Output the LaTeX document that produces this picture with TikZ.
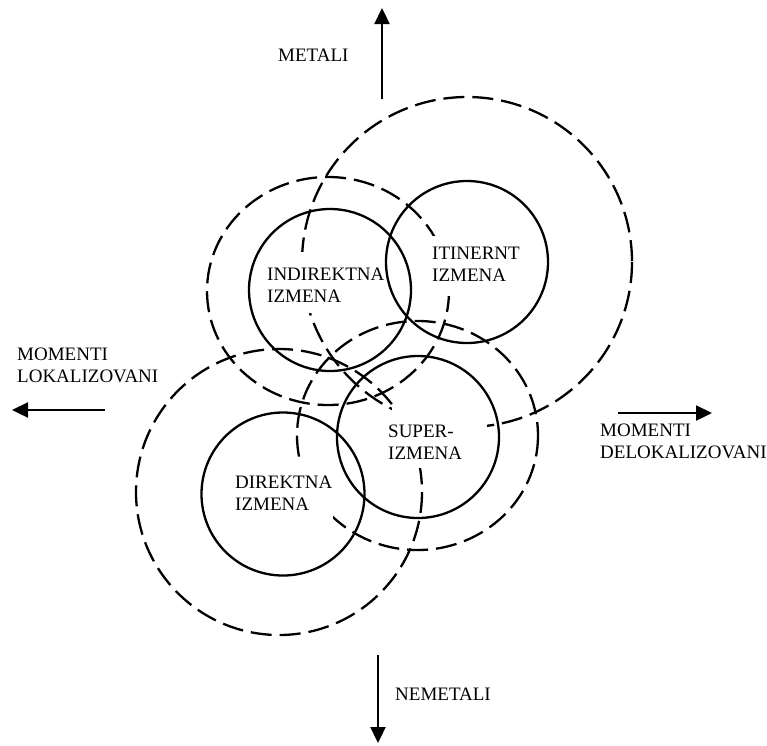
\documentclass[tikz,border=0pt]{standalone}
\usepackage{fontspec}
\setmainfont{Liberation Serif}
\usetikzlibrary{arrows.meta}
\begin{document}
\begin{tikzpicture}[x=1pt,y=-1pt,
  dcirc/.style={draw, line width=2.3pt, dash pattern=on 21pt off 8pt},
  scirc/.style={draw, line width=2.3pt},
  wbox/.style={fill=white, draw=none, inner sep=0pt},
  lbl/.style={align=left, inner sep=0pt, anchor=base west, font=\fontsize{19}{21.7}\selectfont},
  axis/.style={line width=2.3pt, -{Triangle[length=16pt,width=15pt]}}]
\useasboundingbox (0,0) rectangle (767,745);
% dashed regions
\draw[dcirc] (467,262) circle [radius=165];
\draw[dcirc] (328,291) ellipse [x radius=121, y radius=114];
\draw[dcirc] (417.5,435.5) ellipse [x radius=120.5, y radius=114.5];
\draw[dcirc] (279,492) circle [radius=143];
% white text boxes
\node[wbox, minimum width=121pt, minimum height=61pt] (indbox) at (322.5,282.5) {};
\node[wbox, minimum width=97pt, minimum height=60pt] (itinbox) at (476.5,266) {};
\node[wbox, minimum width=95pt, minimum height=63pt] (supbox) at (439.5,436.5) {};
\node[wbox, minimum width=105pt, minimum height=58pt] (dirbox) at (280.5,492) {};
% solid circles
\draw[scirc] (330,290) circle [radius=81];
\draw[scirc] (467,262) circle [radius=81];
\draw[scirc] (418,437) circle [radius=81];
\draw[scirc] (283,494) circle [radius=81.5];
% labels (multi-line nodes anchored at the baseline of their last line)
\node[lbl] (ind) at (267,302) {INDIREKTNA\\IZMENA};
\node[lbl] (itin) at (432,281) {ITINERNT\\IZMENA};
\node[lbl] (sup) at (388,459) {SUPER-\\IZMENA};
\node[lbl] (dir) at (235,510) {DIREKTNA\\IZMENA};
\node[lbl] (metali) at (278,61) {METALI};
\node[lbl] (nemetali) at (395,700) {NEMETALI};
\node[lbl] (lok) at (17,382) {MOMENTI\\LOKALIZOVANI};
\node[lbl] (delok) at (600,458) {MOMENTI\\DELOKALIZOVANI};
% axes
\coordinate (upS) at (382,99);
\coordinate (upE) at (382,8);
\coordinate (dnS) at (378,655);
\coordinate (dnE) at (378,743);
\coordinate (lfS) at (105,410);
\coordinate (lfE) at (12,410);
\coordinate (rtS) at (618,413);
\coordinate (rtE) at (712,413);
\draw[axis] (upS) -- (upE);
\draw[axis] (dnS) -- (dnE);
\draw[axis] (lfS) -- (lfE);
\draw[axis] (rtS) -- (rtE);
\end{tikzpicture}
\end{document}
